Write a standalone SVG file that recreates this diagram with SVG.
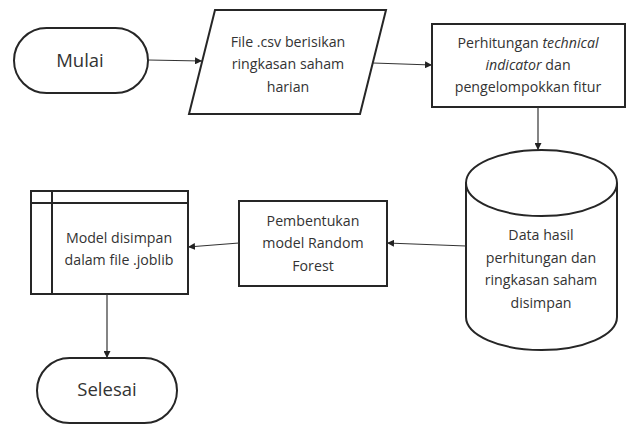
<svg xmlns="http://www.w3.org/2000/svg" width="630" height="426" viewBox="0 0 630 426">
<style>
.s{fill:#fff;stroke:#262626;stroke-width:2}
.c{fill:none;stroke:#333;stroke-width:1.2}
text{font-family:"Open Sans","Liberation Sans",sans-serif;font-size:14.2px;fill:#333;text-anchor:middle}
.big{font-size:18.5px}
</style>
<defs>
<marker id="a" viewBox="0 0 10 10" refX="10" refY="5" markerWidth="7" markerHeight="7" orient="auto" markerUnits="userSpaceOnUse">
<path d="M0,0L10,5L0,10z" fill="#222"/>
</marker>
</defs>
<rect width="630" height="426" fill="#fff"/>
<g id="mulai">
<rect class="s" x="14" y="28" width="134" height="65" rx="32.5"/>
<text class="big" x="80" y="67">Mulai</text>
</g>
<g id="file-csv">
<polygon class="s" points="215,10 386,10 360,114 189,114"/>
<text x="288" y="47">File .csv berisikan</text>
<text x="288" y="69">ringkasan saham</text>
<text x="288" y="92">harian</text>
</g>
<g id="perhitungan">
<rect class="s" x="432" y="24" width="193" height="83"/>
<text x="528" y="48">Perhitungan <tspan font-style="italic">technical</tspan></text>
<text x="528" y="70"><tspan font-style="italic">indicator</tspan> dan</text>
<text x="528" y="92">pengelompokkan fitur</text>
</g>
<g id="data">
<path class="s" d="M466,183 A75.5,33 0 0 1 617,183 L617,317 A75.5,33 0 0 1 466,317 Z"/>
<path class="s" fill="none" d="M466,183 A75.5,33 0 0 0 617,183"/>
<text x="541" y="240">Data hasil</text>
<text x="541" y="263">perhitungan dan</text>
<text x="541" y="285">ringkasan saham</text>
<text x="541" y="308">disimpan</text>
</g>
<g id="pembentukan">
<rect class="s" x="239" y="201" width="148" height="85"/>
<text x="313" y="226">Pembentukan</text>
<text x="313" y="248">model Random</text>
<text x="313" y="271">Forest</text>
</g>
<g id="model">
<rect class="s" x="31" y="191" width="157" height="103"/>
<line class="s" x1="31" y1="203" x2="188" y2="203"/>
<line class="s" x1="52" y1="191" x2="52" y2="294"/>
<text x="119" y="243">Model disimpan</text>
<text x="119" y="265">dalam file .joblib</text>
</g>
<g id="selesai">
<rect class="s" x="37" y="358" width="140" height="65" rx="32.5"/>
<text class="big" x="107" y="396">Selesai</text>
</g>
<g id="connectors">
<line class="c" x1="148" y1="60" x2="202" y2="61" marker-end="url(#a)"/>
<line class="c" x1="373" y1="63" x2="432" y2="65" marker-end="url(#a)"/>
<line class="c" x1="538" y1="107" x2="538" y2="150" marker-end="url(#a)"/>
<line class="c" x1="466" y1="246" x2="387" y2="243" marker-end="url(#a)"/>
<line class="c" x1="239" y1="243" x2="188" y2="247" marker-end="url(#a)"/>
<line class="c" x1="107" y1="294" x2="107" y2="358" marker-end="url(#a)"/>
</g>
</svg>
